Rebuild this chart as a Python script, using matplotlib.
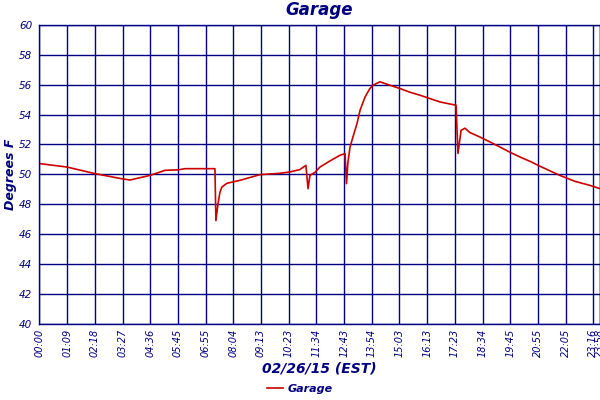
import numpy as np
import matplotlib
matplotlib.use("Agg")
import matplotlib.pyplot as plt

# readings (hours since midnight, deg F)
hours = [0.0, 1.15, 2.32, 3.46, 3.79, 4.63, 5.26, 5.80, 6.10, 7.35,
         7.39, 7.48, 7.56, 7.64, 7.85, 8.40, 9.24, 10.07, 10.49, 10.91,
         11.16, 11.25, 11.33, 11.54, 11.75, 12.17, 12.59, 12.80, 12.86, 12.92,
         13.01, 13.13, 13.30, 13.43, 13.64, 13.84, 13.97, 14.26, 14.68, 15.10,
         15.52, 15.94, 16.35, 16.78, 17.45, 17.53, 17.66, 17.82, 18.03, 18.45,
         18.87, 19.29, 19.71, 20.13, 20.55, 20.97, 21.80, 22.43, 23.06, 23.44]
temps = [50.72, 50.49, 50.05, 49.70, 49.62, 49.93, 50.27, 50.30, 50.38, 50.38,
         46.90, 48.05, 48.80, 49.15, 49.40, 49.60, 49.98, 50.07, 50.16, 50.32,
         50.60, 49.04, 49.93, 50.13, 50.49, 50.90, 51.28, 51.39, 49.38, 50.80,
         51.83, 52.50, 53.40, 54.30, 55.19, 55.75, 55.97, 56.20, 55.97, 55.75,
         55.50, 55.30, 55.08, 54.85, 54.63, 51.40, 52.95, 53.09, 52.80, 52.50,
         52.17, 51.83, 51.48, 51.16, 50.87, 50.54, 49.93, 49.53, 49.26, 49.06]

tick_labels = ["00:00", "01:09", "02:18", "03:27", "04:36", "05:45", "06:55",
               "08:04", "09:13", "10:23", "11:34", "12:43", "13:54", "15:03",
               "16:13", "17:23", "18:34", "19:45", "20:55", "22:05", "23:16",
               "23:58"]
y_ticks = [40, 42, 44, 46, 48, 50, 52, 54, 56, 58, 60]

navy = "#000080"
red = "#cc0000"
x_end = 23.46

fig = plt.figure(figsize=(6, 4), dpi=100)
ax = fig.add_axes([0.0658, 0.191, 0.9334, 0.7463])

ax.plot(hours, temps, color=red, linewidth=1.2, label="Garage")

tick_pos = list(np.arange(21) * 1.16) + [x_end]
ax.set_xlim(0, x_end)
ax.set_ylim(40, 60)
ax.set_xticks(tick_pos)
ax.set_xticklabels(tick_labels, rotation=90, fontsize=7, style="italic", color=navy)
ax.set_yticks(y_ticks)
ax.set_yticklabels([str(v) for v in y_ticks], fontsize=7.5, style="italic", color=navy)
ax.tick_params(axis="x", length=0, pad=4)
ax.tick_params(axis="y", length=0, pad=5)

ax.grid(True, color=navy, linewidth=1.0)
ax.set_axisbelow(True)
for sp in ax.spines.values():
    sp.set_color(navy)
    sp.set_linewidth(1.0)

ax.set_title("Garage", fontsize=12, fontweight="bold", style="italic", color=navy, pad=7)
ax.set_xlabel("02/26/15 (EST)", fontsize=10, fontweight="bold", style="italic", color=navy, labelpad=3)
ax.set_ylabel("Degrees F", fontsize=9, fontweight="bold", style="italic", color=navy, labelpad=2)

leg = fig.legend(loc="lower center", bbox_to_anchor=(0.5, -0.01), frameon=False,
                 handlelength=1.4, handletextpad=0.4,
                 prop={"size": 8, "weight": "bold", "style": "italic"})
for t in leg.get_texts():
    t.set_color(navy)

fig.savefig("out.png", dpi=100)
